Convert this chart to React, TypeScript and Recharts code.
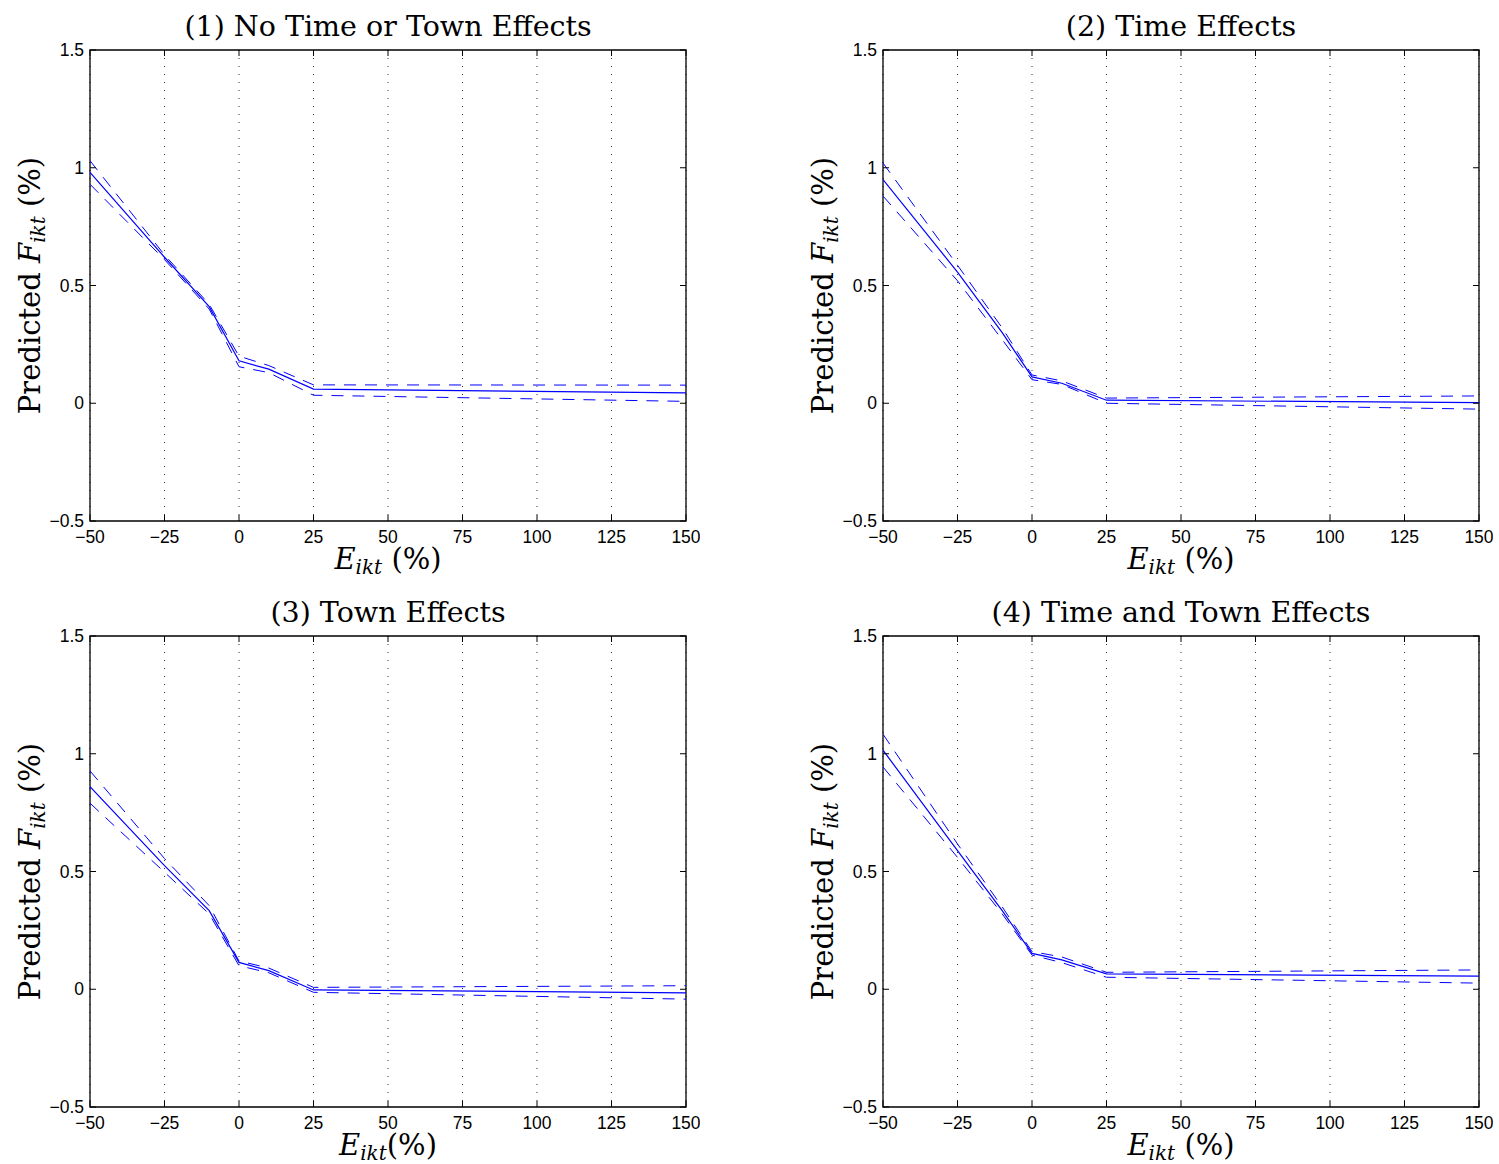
import React from "react";
import { LineChart, Line, XAxis, YAxis, CartesianGrid, ReferenceArea } from "recharts";

// ---------- data ----------
const xValues = [-50, -25, -10, 0, 10, 25, 150];
const xTicks = [-50, -25, 0, 25, 50, 75, 100, 125, 150];
const yTicks = [-0.5, 0, 0.5, 1, 1.5];

const titles = [
  "(1) No Time or Town Effects",
  "(2) Time Effects",
  "(3) Town Effects",
  "(4) Time and Town Effects",
];
const xLabelGap = [" ", " ", "", " "];

const p1Center = [0.98, 0.62, 0.41, 0.18, 0.145, 0.06, 0.044];
const p1Upper = [1.03, 0.63, 0.42, 0.2, 0.16, 0.078, 0.077];
const p1Lower = [0.93, 0.61, 0.4, 0.155, 0.13, 0.034, 0.008];

const p2Center = [0.95, 0.557, 0.3, 0.112, 0.085, 0.013, 0.003];
const p2Upper = [1.02, 0.586, 0.32, 0.12, 0.095, 0.022, 0.031];
const p2Lower = [0.88, 0.52, 0.27, 0.1, 0.08, 0.0, -0.025];

const p3Center = [0.86, 0.525, 0.334, 0.114, 0.079, -0.003, -0.015];
const p3Upper = [0.927, 0.555, 0.355, 0.12, 0.09, 0.008, 0.015];
const p3Lower = [0.79, 0.497, 0.32, 0.1, 0.07, -0.013, -0.042];

const p4Center = [1.015, 0.589, 0.334, 0.152, 0.125, 0.065, 0.056];
const p4Upper = [1.083, 0.617, 0.35, 0.16, 0.137, 0.072, 0.082];
const p4Lower = [0.944, 0.56, 0.32, 0.145, 0.113, 0.051, 0.026];

const centers = [p1Center, p2Center, p3Center, p4Center];
const uppers = [p1Upper, p2Upper, p3Upper, p4Upper];
const lowers = [p1Lower, p2Lower, p3Lower, p4Lower];

// ---------- layout ----------
const CW = 700;
const CH = 578;
const PLOT_LEFT = 90;
const PLOT_TOP = 50;
const PLOT_RIGHT = 686;
const PLOT_BOTTOM = 521;
const PW = PLOT_RIGHT - PLOT_LEFT;
const PH = PLOT_BOTTOM - PLOT_TOP;
// axes take 1px each (an axis of size 0 is not drawn)
const M = { top: PLOT_TOP, left: PLOT_LEFT - 1, right: CW - PLOT_RIGHT, bottom: CH - PLOT_BOTTOM - 1 };
const offsets = [
  { left: 0, top: 0 },
  { left: 793, top: 0 },
  { left: 0, top: 586 },
  { left: 793, top: 586 },
];

const SANS = "'Liberation Sans', Arial, Helvetica, sans-serif";
const SERIF = "'DejaVu Serif', 'Liberation Serif', serif";
const BLUE = "#0000ff";

const fmt = (v: number) => String(v).replace("-", "\u2212");

const XTick = (props: any) => {
  const { x, payload } = props;
  const y = PLOT_BOTTOM;
  return (
    <g>
      <line x1={x} y1={y} x2={x} y2={y - 6} stroke="#000" />
      <line x1={x} y1={y - PH} x2={x} y2={y - PH + 6} stroke="#000" />
      <text x={x} y={y + 22} textAnchor="middle" fontFamily={SANS} fontSize={17.5} fill="#000">
        {fmt(payload.value)}
      </text>
    </g>
  );
};

const YTick = (props: any) => {
  const { y, payload } = props;
  const x = PLOT_LEFT;
  return (
    <g>
      <line x1={x} y1={y} x2={x + 6} y2={y} stroke="#000" />
      <line x1={x + PW} y1={y} x2={x + PW - 6} y2={y} stroke="#000" />
      <text x={x - 6} y={y + 6} textAnchor="end" fontFamily={SANS} fontSize={17.5} fill="#000">
        {fmt(payload.value)}
      </text>
    </g>
  );
};

function Panel({ idx }: { idx: number }) {
  const data = xValues.map((x, i) => ({
    x,
    center: centers[idx][i],
    upper: uppers[idx][i],
    lower: lowers[idx][i],
  }));
  const off = offsets[idx];
  const cx = PLOT_LEFT + PW / 2;
  const cy = PLOT_TOP + PH / 2;
  return (
    <div style={{ position: "absolute", left: off.left, top: off.top, width: CW, height: CH }}>
      <LineChart width={CW} height={CH} data={data} margin={M}>
        <CartesianGrid horizontal={false} vertical={true} stroke="#333" strokeDasharray="1 7" />
        <XAxis
          dataKey="x"
          type="number"
          domain={[-50, 150]}
          ticks={xTicks}
          height={1}
          tickSize={0}
          tickMargin={0}
          axisLine={false}
          tickLine={false}
          tick={<XTick />}
          interval={0}
          allowDataOverflow
        />
        <YAxis
          type="number"
          domain={[-0.5, 1.5]}
          ticks={yTicks}
          width={1}
          tickSize={0}
          tickMargin={0}
          axisLine={false}
          tickLine={false}
          tick={<YTick />}
          interval={0}
          allowDataOverflow
        />
        <ReferenceArea x1={-50} x2={150} y1={-0.5} y2={1.5} fill="none" stroke="#000" strokeWidth={1.3} fillOpacity={0} />
        <Line type="linear" dataKey="upper" stroke={BLUE} strokeWidth={1} strokeDasharray="12 9" dot={false} isAnimationActive={false} />
        <Line type="linear" dataKey="lower" stroke={BLUE} strokeWidth={1} strokeDasharray="12 9" dot={false} isAnimationActive={false} />
        <Line type="linear" dataKey="center" stroke={BLUE} strokeWidth={1.2} dot={false} isAnimationActive={false} />
      </LineChart>
      <svg width={CW} height={CH} style={{ position: "absolute", left: 0, top: 0, pointerEvents: "none" }}>
        <text x={cx} y={36} textAnchor="middle" fontFamily={SERIF} fontSize={28.5} fill="#000">
          {titles[idx]}
        </text>
        <text x={cx} y={569} textAnchor="middle" fontFamily={SERIF} fontSize={29} fill="#000">
          <tspan fontStyle="italic">E</tspan>
          <tspan fontStyle="italic" fontSize={20} dy={5}>ikt</tspan>
          <tspan dy={-5}>{xLabelGap[idx]}(%)</tspan>
        </text>
        <text
          x={40}
          y={cy}
          transform={`rotate(-90, 40, ${cy})`}
          textAnchor="middle"
          fontFamily={SERIF}
          fontSize={29}
          fill="#000"
        >
          Predicted <tspan fontStyle="italic">F</tspan>
          <tspan fontStyle="italic" fontSize={20} dy={5}>ikt</tspan>
          <tspan dy={-5}>{"  "}(%)</tspan>
        </text>
      </svg>
    </div>
  );
}

export default function App() {
  return (
    <div style={{ position: "absolute", left: 0, top: 0, width: 1499, height: 1164, background: "#fff", overflow: "hidden" }}>
      {[0, 1, 2, 3].map((i) => (
        <Panel key={i} idx={i} />
      ))}
    </div>
  );
}
